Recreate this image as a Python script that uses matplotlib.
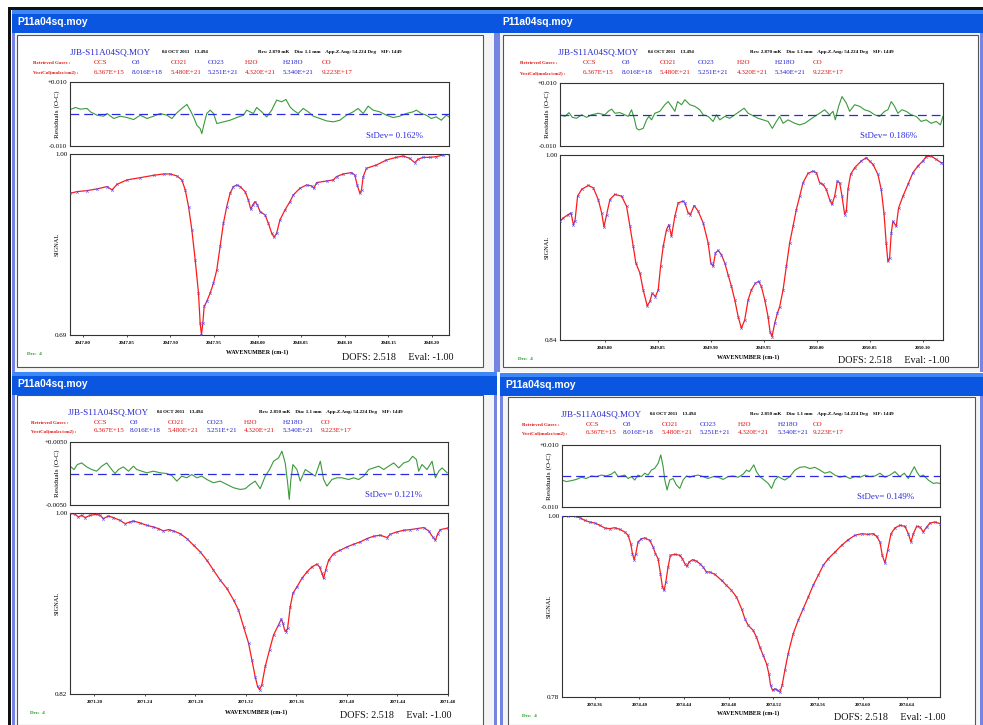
import matplotlib
matplotlib.use('Agg')
import matplotlib.pyplot as plt
from matplotlib.patches import Rectangle

W, H = 983, 725
SERIF = 'Liberation Serif'

# ---------------- data ----------------
gases = ['OCS', 'O3', 'CO21', 'CO23', 'H2O', 'H218O', 'CO']
vertcols = ['6.367E+15', '8.016E+18', '5.480E+21', '5.251E+21', '4.320E+21', '5.340E+21', '9.223E+17']
gas_colors = ['#e01010', '#2020d0', '#e01010', '#2020d0', '#e01010', '#2020d0', '#e01010']

stdevs = ['0.162', '0.186', '0.121', '0.149']
res_mk = ['2.870', '2.870', '2.850', '2.850']
res_labels = [('+0.010', '-0.010'), ('+0.010', '-0.010'), ('+0.0050', '-0.0050'), ('+0.010', '-0.010')]
res_limits = [0.010, 0.010, 0.0050, 0.010]
signal_min = [0.69, 0.84, 0.82, 0.78]

tl_ticks = [2047.80, 2047.85, 2047.90, 2047.95, 2048.00, 2048.05, 2048.10, 2048.15, 2048.20]
tr_ticks = [2049.80, 2049.85, 2049.90, 2049.95, 2050.00, 2050.05, 2050.10]
bl_ticks = [2071.20, 2071.24, 2071.28, 2071.32, 2071.36, 2071.40, 2071.44, 2071.48]
br_ticks = [2074.36, 2074.40, 2074.44, 2074.48, 2074.52, 2074.56, 2074.60, 2074.64]

tl_wn = [2047.7855, 2047.7931, 2047.8046, 2047.8160, 2047.8275, 2047.8332, 2047.8389, 2047.8503, 2047.8656, 2047.8808,
         2047.8923, 2047.8999, 2047.9075, 2047.9132, 2047.9171, 2047.9209, 2047.9247, 2047.9285, 2047.9323, 2047.9342,
         2047.9357, 2047.9373, 2047.9388, 2047.9418, 2047.9457, 2047.9495, 2047.9533, 2047.9571, 2047.9609, 2047.9647,
         2047.9685, 2047.9724, 2047.9762, 2047.9800, 2047.9857, 2047.9895, 2047.9922, 2047.9945, 2047.9971, 2047.9998,
         2048.0029, 2048.0086, 2048.0124, 2048.0162, 2048.0189, 2048.0219, 2048.0257, 2048.0315, 2048.0372, 2048.0410,
         2048.0486, 2048.0562, 2048.0620, 2048.0646, 2048.0677, 2048.0791, 2048.0868, 2048.0906, 2048.0982, 2048.1077,
         2048.1115, 2048.1142, 2048.1173, 2048.1192, 2048.1211, 2048.1249, 2048.1363, 2048.1478, 2048.1592, 2048.1668,
         2048.1744, 2048.1802, 2048.1840, 2048.1897, 2048.1973, 2048.2049, 2048.2126, 2048.2194]
tl_sig = [0.9328, 0.9356, 0.9373, 0.9402, 0.9442, 0.9385, 0.9481, 0.9556, 0.9595, 0.9635,
          0.9658, 0.9658, 0.9624, 0.9556, 0.9385, 0.9100, 0.8701, 0.8188, 0.7618, 0.7105,
          0.6906, 0.7105, 0.7390, 0.7476, 0.7618, 0.7789, 0.8017, 0.8416, 0.8815, 0.9100,
          0.9328, 0.9442, 0.9470, 0.9442, 0.9356, 0.9214, 0.9054, 0.9128, 0.9185, 0.9128,
          0.9014, 0.8957, 0.8815, 0.8644, 0.8575, 0.8644, 0.8872, 0.9043, 0.9185, 0.9299,
          0.9413, 0.9470, 0.9453, 0.9413, 0.9510, 0.9538, 0.9556, 0.9613, 0.9658, 0.9681,
          0.9641, 0.9470, 0.9328, 0.9385, 0.9613, 0.9755, 0.9812, 0.9897, 0.9943, 0.9966,
          0.9926, 0.9852, 0.9909, 0.9943, 0.9943, 0.9954, 0.9983, 1.0000]
tl_res_wn = [2047.7855, 2047.7912, 2047.7969, 2047.8046, 2047.8084, 2047.8160, 2047.8236, 2047.8275, 2047.8351, 2047.8427,
             2047.8503, 2047.8580, 2047.8656, 2047.8732, 2047.8808, 2047.8885, 2047.8961, 2047.9018, 2047.9075, 2047.9132,
             2047.9190, 2047.9228, 2047.9266, 2047.9304, 2047.9342, 2047.9361, 2047.9388, 2047.9418, 2047.9457, 2047.9495,
             2047.9533, 2047.9609, 2047.9685, 2047.9762, 2047.9838, 2047.9876, 2047.9952, 2047.9990, 2048.0048, 2048.0105,
             2048.0162, 2048.0219, 2048.0276, 2048.0326, 2048.0372, 2048.0410, 2048.0467, 2048.0524, 2048.0581, 2048.0639,
             2048.0715, 2048.0791, 2048.0868, 2048.0944, 2048.1020, 2048.1096, 2048.1153, 2048.1211, 2048.1268, 2048.1325,
             2048.1401, 2048.1478, 2048.1554, 2048.1630, 2048.1706, 2048.1783, 2048.1821, 2048.1878, 2048.1935, 2048.1992,
             2048.2049, 2048.2107, 2048.2164, 2048.2194]
tl_res = [0.00141, 0.00204, 0.00152, 0.00173, 0.00068, -0.00037, -0.00068, 0.00016, -0.00141, -0.00068,
          -0.00110, -0.00173, -0.00037, -0.00141, -0.00068, 0.00016, -0.00037, -0.00141, 0.00037, 0.00173,
          0.00298, 0.00120, -0.00089, -0.00351, -0.00455, -0.00613, -0.00298, 0.00016, 0.00120, 0.00016,
          -0.00298, -0.00246, -0.00194, -0.00110, -0.00037, 0.00120, 0.00016, 0.00204, 0.00068, -0.00089,
          0.00120, 0.00435, 0.00382, 0.00455, 0.00225, 0.00120, 0.00016, 0.00173, 0.00068, -0.00068,
          -0.00141, -0.00215, -0.00246, -0.00194, -0.00037, 0.00068, 0.00173, 0.00016, 0.00246, 0.00120,
          0.00068, -0.00037, -0.00110, -0.00068, 0.00016, 0.00068, 0.00120, 0.00016, -0.00037, -0.00141,
          -0.00089, -0.00194, -0.00037, -0.00089]

tr_wn = [2049.7576, 2049.7607, 2049.7654, 2049.7680, 2049.7702, 2049.7717, 2049.7742, 2049.7780, 2049.7843, 2049.7890,
         2049.7937, 2049.7969, 2049.7991, 2049.8016, 2049.8047, 2049.8094, 2049.8157, 2049.8204, 2049.8236, 2049.8267,
         2049.8292, 2049.8330, 2049.8361, 2049.8399, 2049.8424, 2049.8446, 2049.8477, 2049.8503, 2049.8525, 2049.8550,
         2049.8581, 2049.8603, 2049.8628, 2049.8660, 2049.8691, 2049.8738, 2049.8754, 2049.8785, 2049.8807, 2049.8842,
         2049.8880, 2049.8927, 2049.8974, 2049.8999, 2049.9021, 2049.9043, 2049.9068, 2049.9099, 2049.9131, 2049.9162,
         2049.9194, 2049.9225, 2049.9257, 2049.9288, 2049.9319, 2049.9351, 2049.9382, 2049.9420, 2049.9451, 2049.9476,
         2049.9508, 2049.9539, 2049.9558, 2049.9577, 2049.9602, 2049.9627, 2049.9649, 2049.9681, 2049.9712, 2049.9743,
         2049.9775, 2049.9806, 2049.9838, 2049.9869, 2049.9916, 2049.9963, 2049.9995, 2050.0026, 2050.0058, 2050.0089,
         2050.0120, 2050.0142, 2050.0168, 2050.0193, 2050.0215, 2050.0237, 2050.0262, 2050.0278, 2050.0293, 2050.0318,
         2050.0356, 2050.0419, 2050.0466, 2050.0497, 2050.0529, 2050.0576, 2050.0607, 2050.0633, 2050.0654, 2050.0670,
         2050.0686, 2050.0702, 2050.0717, 2050.0749, 2050.0771, 2050.0812, 2050.0859, 2050.0906, 2050.0953, 2050.1000,
         2050.1031, 2050.1079, 2050.1126, 2050.1173, 2050.1189]
tr_sig = [0.9427, 0.9456, 0.9485, 0.9499, 0.9398, 0.9427, 0.9644, 0.9702, 0.9737, 0.9716,
          0.9615, 0.9499, 0.9378, 0.9485, 0.9615, 0.9659, 0.9644, 0.9557, 0.9384, 0.9210,
          0.9065, 0.8979, 0.8834, 0.8695, 0.8733, 0.8805, 0.8776, 0.8834, 0.9037, 0.9210,
          0.9355, 0.9398, 0.9297, 0.9471, 0.9586, 0.9601, 0.9586, 0.9499, 0.9485, 0.9563,
          0.9514, 0.9413, 0.9239, 0.9065, 0.9037, 0.9152, 0.9175, 0.9138, 0.9065, 0.8964,
          0.8863, 0.8747, 0.8603, 0.8501, 0.8574, 0.8747, 0.8834, 0.8892, 0.8906, 0.8863,
          0.8747, 0.8603, 0.8472, 0.8429, 0.8545, 0.8631, 0.8689, 0.8834, 0.9037, 0.9239,
          0.9384, 0.9528, 0.9644, 0.9760, 0.9841, 0.9861, 0.9847, 0.9760, 0.9745, 0.9702,
          0.9615, 0.9572, 0.9644, 0.9774, 0.9760, 0.9644, 0.9485, 0.9514, 0.9702, 0.9832,
          0.9890, 0.9948, 0.9977, 0.9948, 0.9919, 0.9832, 0.9702, 0.9499, 0.9239, 0.9080,
          0.9109, 0.9326, 0.9427, 0.9384, 0.9543, 0.9644, 0.9745, 0.9847, 0.9905, 0.9948,
          0.9986, 0.9991, 0.9962, 0.9933, 0.9933]
tr_res_wn = [2049.7576, 2049.7623, 2049.7661, 2049.7692, 2049.7733, 2049.7780, 2049.7827, 2049.7874, 2049.7937, 2049.8000,
             2049.8031, 2049.8063, 2049.8094, 2049.8141, 2049.8188, 2049.8220, 2049.8251, 2049.8276, 2049.8298, 2049.8320,
             2049.8361, 2049.8393, 2049.8415, 2049.8440, 2049.8471, 2049.8518, 2049.8565, 2049.8597, 2049.8628, 2049.8660,
             2049.8685, 2049.8723, 2049.8754, 2049.8801, 2049.8848, 2049.8895, 2049.8927, 2049.8974, 2049.9021, 2049.9052,
             2049.9084, 2049.9131, 2049.9178, 2049.9225, 2049.9272, 2049.9313, 2049.9351, 2049.9398, 2049.9445, 2049.9492,
             2049.9539, 2049.9580, 2049.9618, 2049.9649, 2049.9681, 2049.9728, 2049.9791, 2049.9838, 2049.9885, 2049.9932,
             2049.9979, 2050.0026, 2050.0073, 2050.0120, 2050.0152, 2050.0174, 2050.0205, 2050.0237, 2050.0278, 2050.0309,
             2050.0356, 2050.0403, 2050.0450, 2050.0497, 2050.0545, 2050.0592, 2050.0639, 2050.0670, 2050.0702, 2050.0733,
             2050.0764, 2050.0802, 2050.0843, 2050.0890, 2050.0937, 2050.0984, 2050.1031, 2050.1079, 2050.1126, 2050.1166,
             2050.1189]
tr_res = [-0.0001, -0.0006, 0.0006, -0.0009, -0.0012, -0.0001, -0.0009, -0.0001, 0.0004, -0.0001,
          0.0010, 0.0017, 0.0004, 0.0006, -0.0001, -0.0006, 0.0015, -0.0012, -0.0044, -0.0049,
          -0.0044, -0.0017, -0.0006, -0.0017, 0.0004, 0.0010, 0.0031, 0.0041, 0.0026, 0.0010,
          0.0041, 0.0031, 0.0047, 0.0031, 0.0026, 0.0015, -0.0001, -0.0006, -0.0022, -0.0001,
          -0.0017, -0.0006, -0.0012, -0.0001, 0.0010, 0.0020, 0.0004, -0.0004, -0.0012, -0.0017,
          -0.0022, -0.0044, -0.0022, -0.0006, -0.0028, -0.0017, -0.0028, -0.0033, -0.0028, -0.0017,
          -0.0006, 0.0004, 0.0015, -0.0001, 0.0010, -0.0017, 0.0026, 0.0057, 0.0036, 0.0010,
          0.0031, 0.0026, 0.0015, 0.0010, -0.0001, -0.0006, 0.0010, 0.0015, 0.0041, 0.0026,
          0.0004, 0.0015, 0.0010, -0.0001, -0.0006, -0.0022, -0.0017, -0.0028, -0.0022, -0.0033,
          -0.0006]

bl_wn = [2071.1807, 2071.1847, 2071.1873, 2071.1900, 2071.1926, 2071.1966, 2071.2018, 2071.2045, 2071.2071, 2071.2111,
         2071.2151, 2071.2203, 2071.2243, 2071.2283, 2071.2309, 2071.2362, 2071.2415, 2071.2468, 2071.2507, 2071.2547,
         2071.2587, 2071.2626, 2071.2679, 2071.2732, 2071.2785, 2071.2838, 2071.2890, 2071.2943, 2071.2996, 2071.3049,
         2071.3102, 2071.3141, 2071.3181, 2071.3221, 2071.3247, 2071.3273, 2071.3292, 2071.3308, 2071.3326, 2071.3353,
         2071.3387, 2071.3419, 2071.3458, 2071.3480, 2071.3493, 2071.3506, 2071.3519, 2071.3530, 2071.3551, 2071.3572,
         2071.3604, 2071.3643, 2071.3683, 2071.3723, 2071.3762, 2071.3783, 2071.3802, 2071.3815, 2071.3831, 2071.3855,
         2071.3894, 2071.3947, 2071.4000, 2071.4053, 2071.4106, 2071.4159, 2071.4211, 2071.4264, 2071.4317, 2071.4343,
         2071.4396, 2071.4449, 2071.4502, 2071.4555, 2071.4608, 2071.4647, 2071.4679, 2071.4700, 2071.4719, 2071.4740,
         2071.4801]
bl_sig = [1.0000, 0.9987, 0.9960, 0.9977, 0.9954, 0.9977, 0.9987, 0.9977, 0.9944, 0.9970,
          0.9954, 0.9927, 0.9894, 0.9911, 0.9921, 0.9901, 0.9878, 0.9861, 0.9845, 0.9822,
          0.9835, 0.9822, 0.9795, 0.9746, 0.9680, 0.9614, 0.9531, 0.9432, 0.9333, 0.9250,
          0.9135, 0.9036, 0.8870, 0.8705, 0.8540, 0.8374, 0.8276, 0.8243, 0.8292, 0.8474,
          0.8639, 0.8788, 0.8887, 0.8946, 0.8903, 0.8837, 0.8821, 0.8854, 0.9069, 0.9201,
          0.9267, 0.9349, 0.9415, 0.9465, 0.9491, 0.9465, 0.9399, 0.9349, 0.9432, 0.9531,
          0.9597, 0.9630, 0.9663, 0.9690, 0.9713, 0.9746, 0.9769, 0.9779, 0.9756, 0.9789,
          0.9812, 0.9828, 0.9835, 0.9845, 0.9855, 0.9822, 0.9762, 0.9729, 0.9795, 0.9835,
          0.9851]
bl_res_wn = [2071.1807, 2071.1839, 2071.1865, 2071.1900, 2071.1939, 2071.1979, 2071.2018, 2071.2058, 2071.2098, 2071.2137,
             2071.2164, 2071.2190, 2071.2230, 2071.2270, 2071.2309, 2071.2336, 2071.2375, 2071.2415, 2071.2468, 2071.2520,
             2071.2573, 2071.2613, 2071.2653, 2071.2692, 2071.2732, 2071.2771, 2071.2811, 2071.2851, 2071.2890, 2071.2943,
             2071.2996, 2071.3049, 2071.3102, 2071.3155, 2071.3194, 2071.3234, 2071.3273, 2071.3313, 2071.3353, 2071.3387,
             2071.3419, 2071.3458, 2071.3485, 2071.3511, 2071.3530, 2071.3543, 2071.3556, 2071.3572, 2071.3604, 2071.3630,
             2071.3670, 2071.3709, 2071.3749, 2071.3789, 2071.3815, 2071.3841, 2071.3881, 2071.3921, 2071.3960, 2071.4013,
             2071.4053, 2071.4092, 2071.4132, 2071.4172, 2071.4211, 2071.4251, 2071.4291, 2071.4330, 2071.4370, 2071.4410,
             2071.4449, 2071.4489, 2071.4520, 2071.4550, 2071.4568, 2071.4594, 2071.4634, 2071.4674, 2071.4700, 2071.4727,
             2071.4753, 2071.4793]
bl_res = [0.00116, 0.00063, 0.00142, 0.00168, 0.00105, 0.00063, 0.00037, 0.00116, 0.00168, 0.00063,
          0.0, 0.00063, 0.00105, 0.00037, 0.00116, 0.00063, 0.00037, 0.00011, 0.00037, 0.00011,
          0.0, -0.00032, -0.00121, -0.00042, -0.00068, -0.00016, -0.00068, -0.00042, -0.00095, -0.00147,
          -0.00121, -0.00174, -0.00226, -0.00253, -0.00242, -0.00174, -0.00121, -0.00242, -0.00042, 0.00063,
          0.00195, 0.00247, 0.00353, 0.00168, -0.00147, -0.00411, -0.00095, 0.00142, 0.00063, -0.00121,
          0.00063, 0.00011, -0.00042, 0.00195, -0.00095, -0.00200, -0.00095, -0.00068, -0.00068, -0.00095,
          -0.00068, -0.00095, -0.00042, 0.00063, 0.00089, 0.00116, 0.00063, 0.00116, 0.00168, 0.00089,
          0.00168, 0.00195, 0.00274, 0.00221, 0.00037, 0.00142, 0.00063, 0.00195, -0.00068, 0.00037,
          0.00089, 0.00011]

br_wn = [2074.3307, 2074.3361, 2074.3421, 2074.3466, 2074.3510, 2074.3555, 2074.3600, 2074.3645, 2074.3690, 2074.3734,
         2074.3779, 2074.3824, 2074.3869, 2074.3899, 2074.3923, 2074.3938, 2074.3953, 2074.3968, 2074.3988, 2074.4018,
         2074.4048, 2074.4093, 2074.4123, 2074.4144, 2074.4168, 2074.4189, 2074.4207, 2074.4222, 2074.4237, 2074.4257,
         2074.4278, 2074.4317, 2074.4362, 2074.4386, 2074.4407, 2074.4425, 2074.4446, 2074.4476, 2074.4511, 2074.4541,
         2074.4571, 2074.4601, 2074.4631, 2074.4676, 2074.4736, 2074.4780, 2074.4825, 2074.4870, 2074.4915, 2074.4945,
         2074.4975, 2074.5019, 2074.5049, 2074.5079, 2074.5109, 2074.5139, 2074.5160, 2074.5175, 2074.5193, 2074.5214,
         2074.5238, 2074.5259, 2074.5279, 2074.5303, 2074.5333, 2074.5378, 2074.5423, 2074.5468, 2074.5513, 2074.5557,
         2074.5602, 2074.5647, 2074.5692, 2074.5752, 2074.5811, 2074.5871, 2074.5931, 2074.5991, 2074.6050, 2074.6095,
         2074.6125, 2074.6155, 2074.6176, 2074.6200, 2074.6224, 2074.6254, 2074.6289, 2074.6334, 2074.6379, 2074.6409,
         2074.6433, 2074.6454, 2074.6484, 2074.6514, 2074.6543, 2074.6573, 2074.6603, 2074.6648, 2074.6693]
br_sig = [0.9996, 1.0000, 0.9996, 0.9980, 0.9947, 0.9927, 0.9915, 0.9887, 0.9854, 0.9846,
          0.9858, 0.9838, 0.9806, 0.9765, 0.9664, 0.9542, 0.9469, 0.9542, 0.9684, 0.9724,
          0.9733, 0.9704, 0.9623, 0.9542, 0.9481, 0.9299, 0.9137, 0.9096, 0.9198, 0.9380,
          0.9522, 0.9534, 0.9522, 0.9481, 0.9421, 0.9388, 0.9441, 0.9469, 0.9453, 0.9421,
          0.9380, 0.9319, 0.9319, 0.9291, 0.9218, 0.9157, 0.9096, 0.9015, 0.8874, 0.8752,
          0.8671, 0.8610, 0.8529, 0.8408, 0.8306, 0.8205, 0.8084, 0.7942, 0.7881, 0.7901,
          0.7881, 0.7861, 0.7942, 0.8124, 0.8327, 0.8570, 0.8732, 0.8874, 0.9015, 0.9157,
          0.9279, 0.9400, 0.9481, 0.9562, 0.9643, 0.9712, 0.9765, 0.9785, 0.9777, 0.9785,
          0.9753, 0.9684, 0.9522, 0.9429, 0.9583, 0.9785, 0.9854, 0.9887, 0.9874, 0.9785,
          0.9684, 0.9785, 0.9874, 0.9866, 0.9806, 0.9866, 0.9915, 0.9927, 0.9907]
br_res_wn = [2074.3307, 2074.3346, 2074.3391, 2074.3436, 2074.3480, 2074.3525, 2074.3570, 2074.3615, 2074.3660, 2074.3705,
             2074.3749, 2074.3779, 2074.3809, 2074.3839, 2074.3869, 2074.3899, 2074.3929, 2074.3959, 2074.3988, 2074.4018,
             2074.4048, 2074.4078, 2074.4108, 2074.4138, 2074.4168, 2074.4192, 2074.4213, 2074.4228, 2074.4248, 2074.4272,
             2074.4302, 2074.4332, 2074.4362, 2074.4392, 2074.4422, 2074.4452, 2074.4482, 2074.4526, 2074.4571, 2074.4616,
             2074.4661, 2074.4706, 2074.4750, 2074.4795, 2074.4840, 2074.4885, 2074.4930, 2074.4960, 2074.4984, 2074.5005,
             2074.5025, 2074.5049, 2074.5079, 2074.5118, 2074.5154, 2074.5184, 2074.5214, 2074.5244, 2074.5273, 2074.5303,
             2074.5348, 2074.5393, 2074.5438, 2074.5483, 2074.5527, 2074.5572, 2074.5617, 2074.5662, 2074.5707, 2074.5752,
             2074.5796, 2074.5841, 2074.5886, 2074.5931, 2074.5976, 2074.6021, 2074.6065, 2074.6110, 2074.6155, 2074.6200,
             2074.6245, 2074.6289, 2074.6334, 2074.6373, 2074.6409, 2074.6439, 2074.6463, 2074.6484, 2074.6514, 2074.6543,
             2074.6588, 2074.6633, 2074.6663, 2074.6693]
br_res = [-0.0013, -0.0018, -0.0015, -0.0011, -0.0004, -0.0008, 0.0, -0.0002, 0.0003, 0.0,
          0.0006, 0.0014, -0.0002, 0.0, 0.0003, -0.0008, -0.0002, -0.0013, 0.0003, -0.0002,
          0.0009, 0.0003, 0.0019, 0.0025, 0.0041, 0.0068, 0.0030, -0.0013, -0.0045, -0.0013,
          -0.0008, -0.0029, -0.0040, -0.0013, 0.0, -0.0004, 0.0, 0.0003, -0.0002, -0.0008,
          -0.0002, -0.0004, -0.0011, -0.0002, 0.0, -0.0004, 0.0006, 0.0019, 0.0014, 0.0025,
          0.0036, 0.0014, -0.0002, -0.0013, -0.0024, -0.0040, -0.0013, -0.0002, -0.0008, -0.0013,
          -0.0002, 0.0019, 0.0028, 0.0030, 0.0024, 0.0028, 0.0019, 0.0009, 0.0014, 0.0003,
          -0.0004, 0.0, -0.0008, -0.0002, -0.0004, 0.0003, -0.0002, 0.0, 0.0009, -0.0004,
          0.0003, 0.0014, -0.0002, 0.0009, -0.0008, 0.0014, 0.0030, 0.0014, -0.0002, 0.0003,
          -0.0013, -0.0024, -0.0022, -0.0024]

# ---------------- layout (pixels, top-left origin) ----------------
panels = [
    dict(win=(12, 10, 497, 372), client=(17, 35, 483, 367),
         res=(70, 82, 449, 146), sig=(70, 154, 449, 335), xlim=(2047.785, 2048.2195),
         hdr=(70, 52), date_x=162, res_x=258, gas_y=(63, 72), lab_x=33,
         gas_x=[94, 132, 171, 208, 245, 283, 322],
         dofs=(453, 357), dec=(27, 354), xlab=(257, 352),
         wn=tl_wn, s=tl_sig, rwn=tl_res_wn, r=tl_res, ticks=tl_ticks),
    dict(win=(497, 10, 983, 372), client=(503, 35, 978, 367),
         res=(560, 83, 943, 146), sig=(560, 155, 943, 340), xlim=(2049.7576, 2050.119),
         hdr=(558, 52), date_x=648, res_x=750, gas_y=(63, 73), lab_x=520,
         gas_x=[583, 622, 660, 698, 737, 775, 813],
         dofs=(949, 361), dec=(518, 359), xlab=(748, 357),
         wn=tr_wn, s=tr_sig, rwn=tr_res_wn, r=tr_res, ticks=tr_ticks),
    dict(win=(12, 372, 497, 725), client=(17, 395, 483, 725),
         res=(70, 442, 448, 505), sig=(70, 513, 448, 694), xlim=(2071.1807, 2071.48),
         hdr=(68, 412), date_x=157, res_x=259, gas_y=(423, 431), lab_x=31,
         gas_x=[94, 130, 168, 207, 244, 283, 321],
         dofs=(452, 716), dec=(30, 713), xlab=(256, 712),
         wn=bl_wn, s=bl_sig, rwn=bl_res_wn, r=bl_res, ticks=bl_ticks),
    dict(win=(500, 373, 983, 725), client=(508, 397, 975, 725),
         res=(562, 445, 940, 507), sig=(562, 516, 940, 697), xlim=(2074.3307, 2074.6693),
         hdr=(561, 414), date_x=650, res_x=750, gas_y=(425, 433), lab_x=522,
         gas_x=[586, 623, 662, 700, 738, 778, 813],
         dofs=(945, 717), dec=(522, 716), xlab=(748, 713),
         wn=br_wn, s=br_sig, rwn=br_res_wn, r=br_res, ticks=br_ticks),
]

fig = plt.figure(figsize=(W / 100, H / 100), dpi=100)
fig.patch.set_facecolor('white')


def rect(x0, y0, x1, y1, fc, ec='none', lw=0.0, z=-5):
    fig.add_artist(Rectangle((x0 / W, 1 - y1 / H), (x1 - x0) / W, (y1 - y0) / H,
                             transform=fig.transFigure, facecolor=fc, edgecolor=ec,
                             linewidth=lw, zorder=z))


def text(x, y, s, **kw):
    kw.setdefault('zorder', 5)
    fig.text(x / W, 1 - y / H, s, **kw)


def add_ax(box):
    x0, y0, x1, y1 = box
    return fig.add_axes([x0 / W, 1 - y1 / H, (x1 - x0) / W, (y1 - y0) / H])


# outer black frame lines
rect(8, 7, 983, 10, '#101010', z=-9)
rect(8, 7, 11, 725, '#101010', z=-9)

for i, p in enumerate(panels):
    x0, y0, x1, y1 = p['win']
    # window frame
    rect(x0, y0, x1, y1, '#7584e2', z=-8)
    # title bar
    rect(x0, y0, x1, y0 + 23, '#0b56e0', z=-7)
    rect(x0, y0, x1, y0 + 4, '#3d88f6', z=-7)
    text(x0 + 5, y0 + 12, 'P11a04sq.moy', color='white', fontsize=7.4,
         fontweight='bold', family='Liberation Sans', va='center', ha='left')
    # client area
    rect(x0 + 3, y0 + 23, x1 - 3, y1, '#f4f4f4', z=-7)
    cx0, cy0, cx1, cy1 = p['client']
    rect(cx0, cy0, cx1, cy1, 'white', ec='#555555', lw=0.8, z=-6)

    # header
    hx, hy = p['hdr']
    text(hx, hy, 'JJB-S11A04SQ.MOY', color='#2a2ad0', fontsize=6.6, family=SERIF,
         va='center', ha='left')
    text(p['date_x'], hy, '04 OCT 2011    13.494', color='black', fontsize=3.5,
         family=SERIF, fontweight='bold', va='center', ha='left')
    text(p['res_x'], hy, 'Res: %s mK    Dia: 1.1 mm    App.Z.Ang: 54.224 Deg    SIF: 1449' % res_mk[i],
         color='black', fontsize=3.6, family=SERIF, fontweight='bold', va='center', ha='left')
    gy1, gy2 = p['gas_y']
    text(p['lab_x'], gy1, 'Retrieved Gases :', color='#e01010', fontsize=3.6, family=SERIF,
         fontweight='bold', va='center', ha='left')
    text(p['lab_x'], gy2, 'VertCol(molec/cm2) :', color='#e01010', fontsize=3.6, family=SERIF,
         fontweight='bold', va='center', ha='left')
    for g, v, c, gx in zip(gases, vertcols, gas_colors, p['gas_x']):
        text(gx, gy1, g, color=c, fontsize=5.0, family=SERIF, va='center', ha='left')
        text(gx, gy2, v, color=c, fontsize=5.0, family=SERIF, va='center', ha='left')

    # residual panel
    axr = add_ax(p['res'])
    lim = res_limits[i]
    axr.plot(p['rwn'], p['r'], color='#3a9a3a', lw=0.8)
    axr.axhline(0.0, color='#2a2ae0', lw=0.9, dashes=(7, 4))
    axr.set_xlim(*p['xlim'])
    axr.set_ylim(-lim, lim)
    axr.set_xticks([])
    axr.set_yticks([lim, -lim])
    axr.set_yticklabels(list(res_labels[i]), fontsize=5.0, family=SERIF)
    axr.tick_params(axis='y', length=0, pad=2)
    axr.set_ylabel('Residuals (O-C)', fontsize=5.2, family=SERIF)
    rw = p['res'][2] - p['res'][0]
    rh = p['res'][3] - p['res'][1]
    axr.yaxis.set_label_coords(-10.0 / rw, 0.5)
    axr.text(1 - 26.0 / rw, 10.0 / rh, 'StDev= %s%%' % stdevs[i], transform=axr.transAxes,
             color='#2a2ae0', fontsize=6.4, family=SERIF, ha='right', va='center')
    for sp in axr.spines.values():
        sp.set_color('#333333')
        sp.set_linewidth(0.8)

    # signal panel
    axs = add_ax(p['sig'])
    axs.plot(p['wn'], p['s'], color='#ff1a1a', lw=0.9, zorder=2)
    axs.plot(p['wn'], p['s'], linestyle='none', marker='x', ms=1.8, mew=0.5,
             color='#5050ff', alpha=0.85, zorder=3)
    axs.set_xlim(*p['xlim'])
    axs.set_ylim(signal_min[i], 1.0)
    axs.set_yticks([1.0, signal_min[i]])
    axs.set_yticklabels(['1.00', '%.2f' % signal_min[i]], fontsize=5.0, family=SERIF)
    axs.tick_params(axis='y', length=0, pad=2)
    axs.set_xticks(p['ticks'])
    axs.set_xticklabels(['%.2f' % t for t in p['ticks']], fontsize=3.5, family=SERIF,
                        fontweight='bold')
    axs.tick_params(axis='x', length=1.5, width=0.5, pad=3)
    axs.set_ylabel('SIGNAL', fontsize=4.6, family=SERIF)
    sw = p['sig'][2] - p['sig'][0]
    axs.yaxis.set_label_coords(-10.0 / sw, 0.5)
    for sp in axs.spines.values():
        sp.set_color('#333333')
        sp.set_linewidth(0.8)

    xl, yl = p['xlab']
    text(xl, yl, 'WAVENUMBER (cm-1)', color='black', fontsize=4.3, family=SERIF,
         fontweight='bold', va='center', ha='center')
    dx, dy = p['dec']
    text(dx, dy, 'Dec:  4', color='#1a9a1a', fontsize=3.6, family=SERIF,
         fontweight='bold', va='center', ha='left')
    fx, fy = p['dofs']
    text(fx, fy, 'DOFS: 2.518     Eval: -1.00', color='#111111', fontsize=7.3, family=SERIF,
         va='center', ha='right')

fig.savefig('out.png', dpi=100)
